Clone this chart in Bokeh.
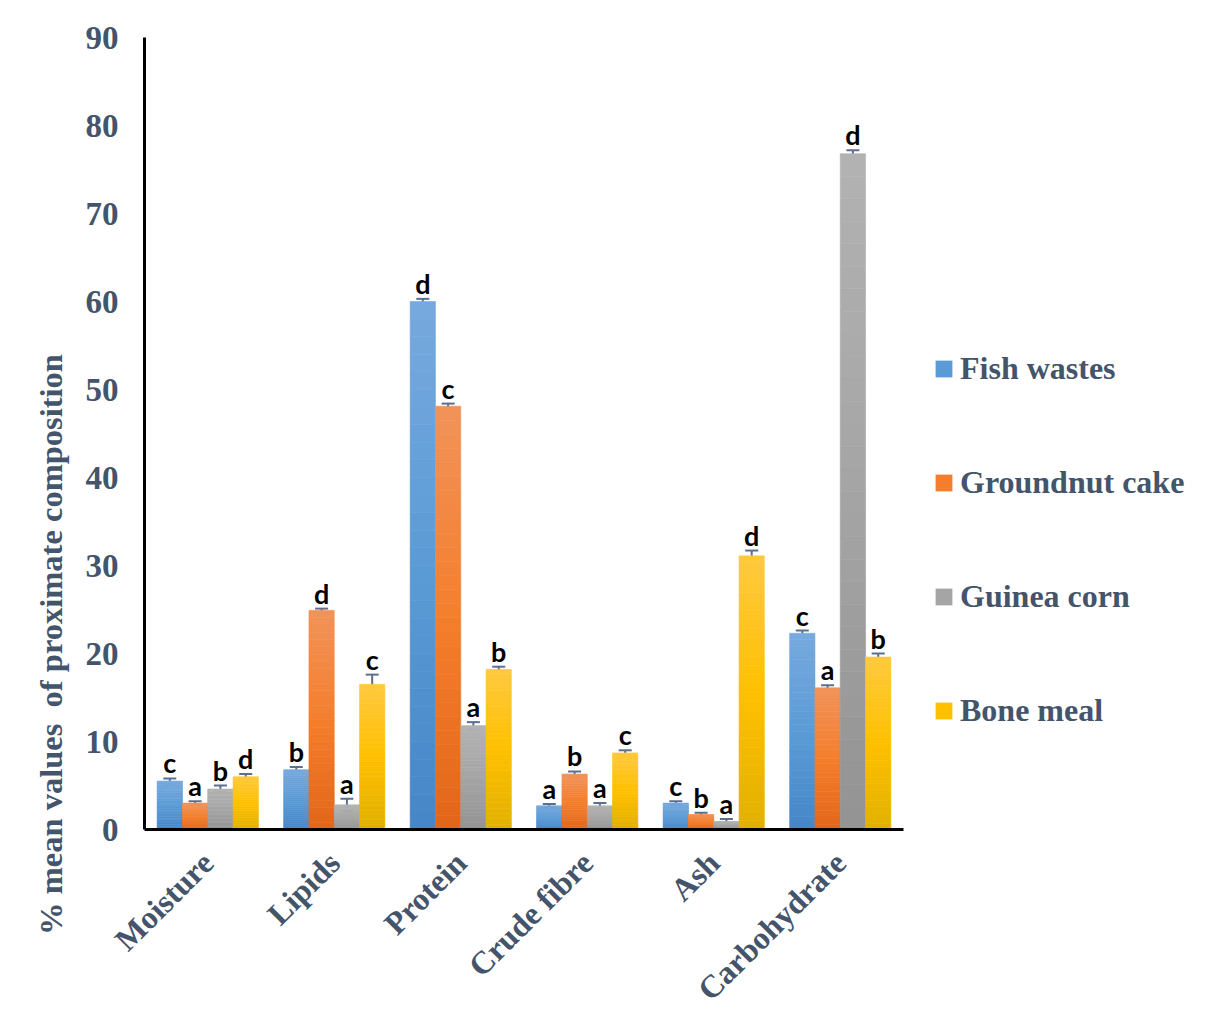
import math
from bokeh.plotting import figure
from bokeh.layouts import row
from bokeh.models import (ColumnDataSource, FactorRange, Whisker, TeeHead, Legend,
                          LegendItem, Label, FixedTicker)
from bokeh.transform import dodge
from bokeh.core.properties import value
from bokeh.embed import file_html
from bokeh.resources import INLINE

categories = ["Moisture", "Lipids", "Protein", "Crude fibre", "Ash", "Carbohydrate"]
series_names = ["Fish wastes", "Groundnut cake", "Guinea corn", "Bone meal"]

fish = [5.5, 6.8, 60.0, 2.7, 3.0, 22.3]
groundnut = [3.0, 24.9, 48.1, 6.3, 1.7, 16.1]
guinea = [4.6, 2.8, 11.8, 2.7, 0.9, 76.8]
bone = [6.0, 16.5, 18.2, 8.7, 31.1, 19.6]

fish_err = [0.3, 0.3, 0.3, 0.2, 0.2, 0.3]
groundnut_err = [0.2, 0.2, 0.3, 0.3, 0.2, 0.3]
guinea_err = [0.4, 0.7, 0.4, 0.3, 0.3, 0.4]
bone_err = [0.3, 1.1, 0.3, 0.3, 0.6, 0.4]

fish_letters = ["c", "b", "d", "a", "c", "c"]
groundnut_letters = ["a", "d", "c", "b", "b", "a"]
guinea_letters = ["b", "a", "a", "a", "a", "d"]
bone_letters = ["d", "c", "b", "c", "d", "b"]

y_ticks = [0, 10, 20, 30, 40, 50, 60, 70, 80, 90]
y_title = "% mean values \u00a0of proximate composition"

values_all = [fish, groundnut, guinea, bone]
errs_all = [fish_err, groundnut_err, guinea_err, bone_err]
letters_all = [fish_letters, groundnut_letters, guinea_letters, bone_letters]
# gradient stops (bottom, middle, top)
gradients = [
    ("#4686C8", "#5B9BD5", "#77A9DE"),
    ("#E2661A", "#F47E2C", "#F1935A"),
    ("#939393", "#A5A5A5", "#B2B2B2"),
    ("#E1B000", "#FFC000", "#FFC93E"),
]
offsets = [-0.3, -0.1, 0.1, 0.3]

TEXT_COLOR = "#44546A"
SERIF = "Liberation Serif"
H = 1024


def hex2rgb(h):
    h = h.lstrip("#")
    return tuple(int(h[i:i + 2], 16) for i in (0, 2, 4))


def rgb2hex(c):
    return "#%02x%02x%02x" % tuple(int(round(v)) for v in c)


def grad_color(stops, t):
    b, m, tp = [hex2rgb(s) for s in stops]
    if t < 0.5:
        a, c, f = b, m, t / 0.5
    else:
        a, c, f = m, tp, (t - 0.5) / 0.5
    return rgb2hex([a[i] + (c[i] - a[i]) * f for i in range(3)])


def blank_fig(w):
    f = figure(width=w, height=H, x_range=(0, w), y_range=(0, H),
               output_backend="svg", toolbar_location=None,
               x_axis_type=None, y_axis_type=None,
               min_border_left=0, min_border_right=0,
               min_border_top=0, min_border_bottom=0)
    f.xgrid.visible = False
    f.ygrid.visible = False
    f.outline_line_color = None
    f.frame_align = False
    return f


# ---- left strip with the y-axis title ----
LW = 80
lab_fig = blank_fig(LW)
lab_fig.add_layout(Label(x=50, y=380, x_units="screen", y_units="screen",
                         text=y_title, angle=math.pi / 2,
                         text_align="center", text_baseline="middle",
                         text_font=SERIF, text_font_style="bold",
                         text_font_size="32.5px", text_color=TEXT_COLOR))

# ---- main chart ----
MW = 833
p = figure(x_range=FactorRange(factors=categories, range_padding=0),
           y_range=(0, 90), width=MW, height=H,
           output_backend="svg", toolbar_location=None,
           min_border_left=144 - LW, min_border_top=37, min_border_bottom=195,
           min_border_right=10)
p.frame_align = False
p.xgrid.visible = False
p.ygrid.visible = False
p.outline_line_color = None

for ax in (p.xaxis[0], p.yaxis[0]):
    ax.axis_line_color = "black"
    ax.axis_line_width = 3
    ax.major_tick_line_color = None
    ax.minor_tick_line_color = None
    ax.major_label_text_font = SERIF
    ax.major_label_text_font_style = "bold"
    ax.major_label_text_color = TEXT_COLOR

p.yaxis[0].major_label_text_font_size = "33px"
p.xaxis[0].major_label_text_font_size = "32px"
p.yaxis[0].ticker = FixedTicker(ticks=y_ticks)
p.yaxis[0].major_label_standoff = 20
p.xaxis[0].major_label_orientation = math.pi / 4
p.xaxis[0].major_label_standoff = 22

N = 30
for s, name in enumerate(series_names):
    vals = values_all[s]
    cats, bots, tops, cols = [], [], [], []
    for i, v in enumerate(vals):
        for k in range(N):
            cats.append(categories[i])
            bots.append(v * k / N)
            tops.append(v * (k + 1) / N)
            cols.append(grad_color(gradients[s], (k + 0.5) / N))
    src = ColumnDataSource(dict(cat=cats, bottom=bots, top=tops, color=cols))
    p.vbar(x=dodge("cat", offsets[s], range=p.x_range), width=0.2,
           bottom="bottom", top="top", source=src,
           fill_color="color", line_color="color", line_width=0.6)

    esrc = ColumnDataSource(dict(
        cat=categories,
        upper=[v + e for v, e in zip(vals, errs_all[s])],
        lower=[v - e for v, e in zip(vals, errs_all[s])],
        lab=letters_all[s]))
    w = Whisker(base=dodge("cat", offsets[s], range=p.x_range), upper="upper",
                lower="lower", source=esrc, line_color="#5B6F8E", line_width=2,
                upper_head=TeeHead(size=13, line_color="#5B6F8E", line_width=2),
                lower_head=TeeHead(size=13, line_color="#5B6F8E", line_width=2))
    p.add_layout(w)
    p.text(x=dodge("cat", offsets[s], range=p.x_range), y="upper", text="lab",
           source=esrc, text_font=value("Lato"), text_font_style="bold",
           text_font_size="27px", text_color="black", text_align="center",
           text_baseline="bottom", y_offset=1)

# ---- right strip with the legend ----
RW = 1228 - LW - MW
leg_fig = blank_fig(RW)
legend_items = []
for s, name in enumerate(series_names):
    # zero-height bar: only its swatch is shown in the legend
    lsrc = ColumnDataSource(dict(x=[0], top=[0]))
    r = leg_fig.vbar(x="x", top="top", width=0, source=lsrc,
                     fill_color=gradients[s][1], line_color=None)
    legend_items.append(LegendItem(label=name, renderers=[r]))

legend = Legend(items=legend_items, location=(20, 295), orientation="vertical",
                label_text_font=SERIF, label_text_font_style="bold",
                label_text_font_size="32px", label_text_color=TEXT_COLOR,
                glyph_width=21, glyph_height=21, label_height=30, spacing=77,
                border_line_color=None, background_fill_alpha=0, padding=0,
                margin=0, label_standoff=6)
leg_fig.add_layout(legend)

layout = row(lab_fig, p, leg_fig, spacing=0)
open("out.html", "w").write(file_html(layout, INLINE))
